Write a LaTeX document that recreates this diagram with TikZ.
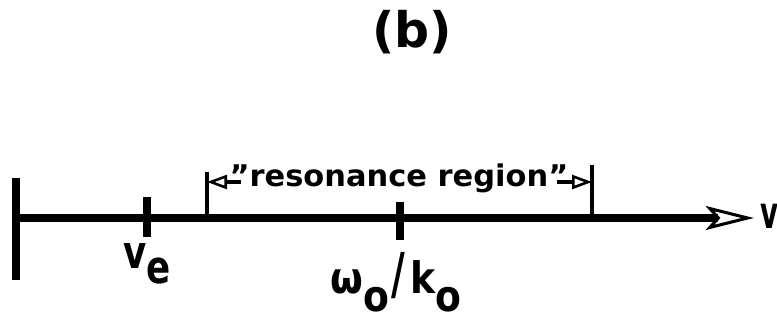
\documentclass[tikz,border=0pt]{standalone}
\usepackage{fontspec}
\setmainfont{DejaVu Sans}
\usetikzlibrary{arrows.meta}
\newcommand\lblfont[1]{\fontsize{#1}{#1}\selectfont\bfseries}

\begin{document}
\begin{tikzpicture}[
x=0.03cm, y=-0.03cm,
axisline/.style={line width=6.5pt, -{Stealth[open, length=1.45cm, width=0.72cm, inset=0.32cm, line width=2.6pt]}},
thickbar/.style={line width=6pt},
thinbar/.style={line width=2.6pt},
stub/.style={line width=3.4pt, shorten <=-0.36cm, -{Triangle[open, length=0.6cm, width=0.42cm, line width=2.2pt]}},
lbl/.style={inner sep=0pt}
]
\useasboundingbox (0,0) rectangle (777,320);

% labels
\node[lbl, font=\lblfont{41.8}] (title) at (412,32) {(b)};
\node[lbl, font=\lblfont{25.5}, anchor=base] (region) at (399,187) {\scalebox{1.02}[1]{"resonance region"}};
\node[lbl, font=\lblfont{39}] (velab) at (147,264) {\scalebox{0.78}[1]{v\raisebox{-0.32em}{e}}};
\node[lbl, font=\lblfont{37}] (wlab) at (396,282) {\scalebox{0.87}[1]{ω\raisebox{-0.42em}{o}\kern0.05em\scalebox{1}[1.3]{/}\kern0.15em k\raisebox{-0.42em}{o}}};
\node[lbl, font=\lblfont{38}, anchor=west] (vlab) at (760,216) {\scalebox{0.62}[1]{v}};

% axis and marks
\coordinate (origin) at (16,218);
\coordinate (vend) at (754,218);
\coordinate (lowbar) at (16,280);
\coordinate (topbar) at (16,178);
\coordinate (vetop) at (147,197);
\coordinate (vebot) at (147,237);
\coordinate (wtop) at (400,202);
\coordinate (wbot) at (400,240);
\coordinate (rltop) at (207,172);
\coordinate (rlbot) at (207,218);
\coordinate (rrtop) at (592,165);
\coordinate (rrbot) at (592,218);
\coordinate (rl) at (207,182);
\coordinate (rr) at (592,182);

\draw[axisline] (origin) -- (vend);
\draw[thickbar] (topbar) -- (lowbar);
\draw[thickbar] (vetop) -- (vebot);
\draw[thickbar] (wtop) -- (wbot);
\draw[thinbar] (rltop) -- (rlbot);
\draw[thinbar] (rrtop) -- (rrbot);
\draw[stub] (region.west |- rl) -- (rl);
\draw[stub] (region.east |- rr) -- (rr);
\end{tikzpicture}
\end{document}
